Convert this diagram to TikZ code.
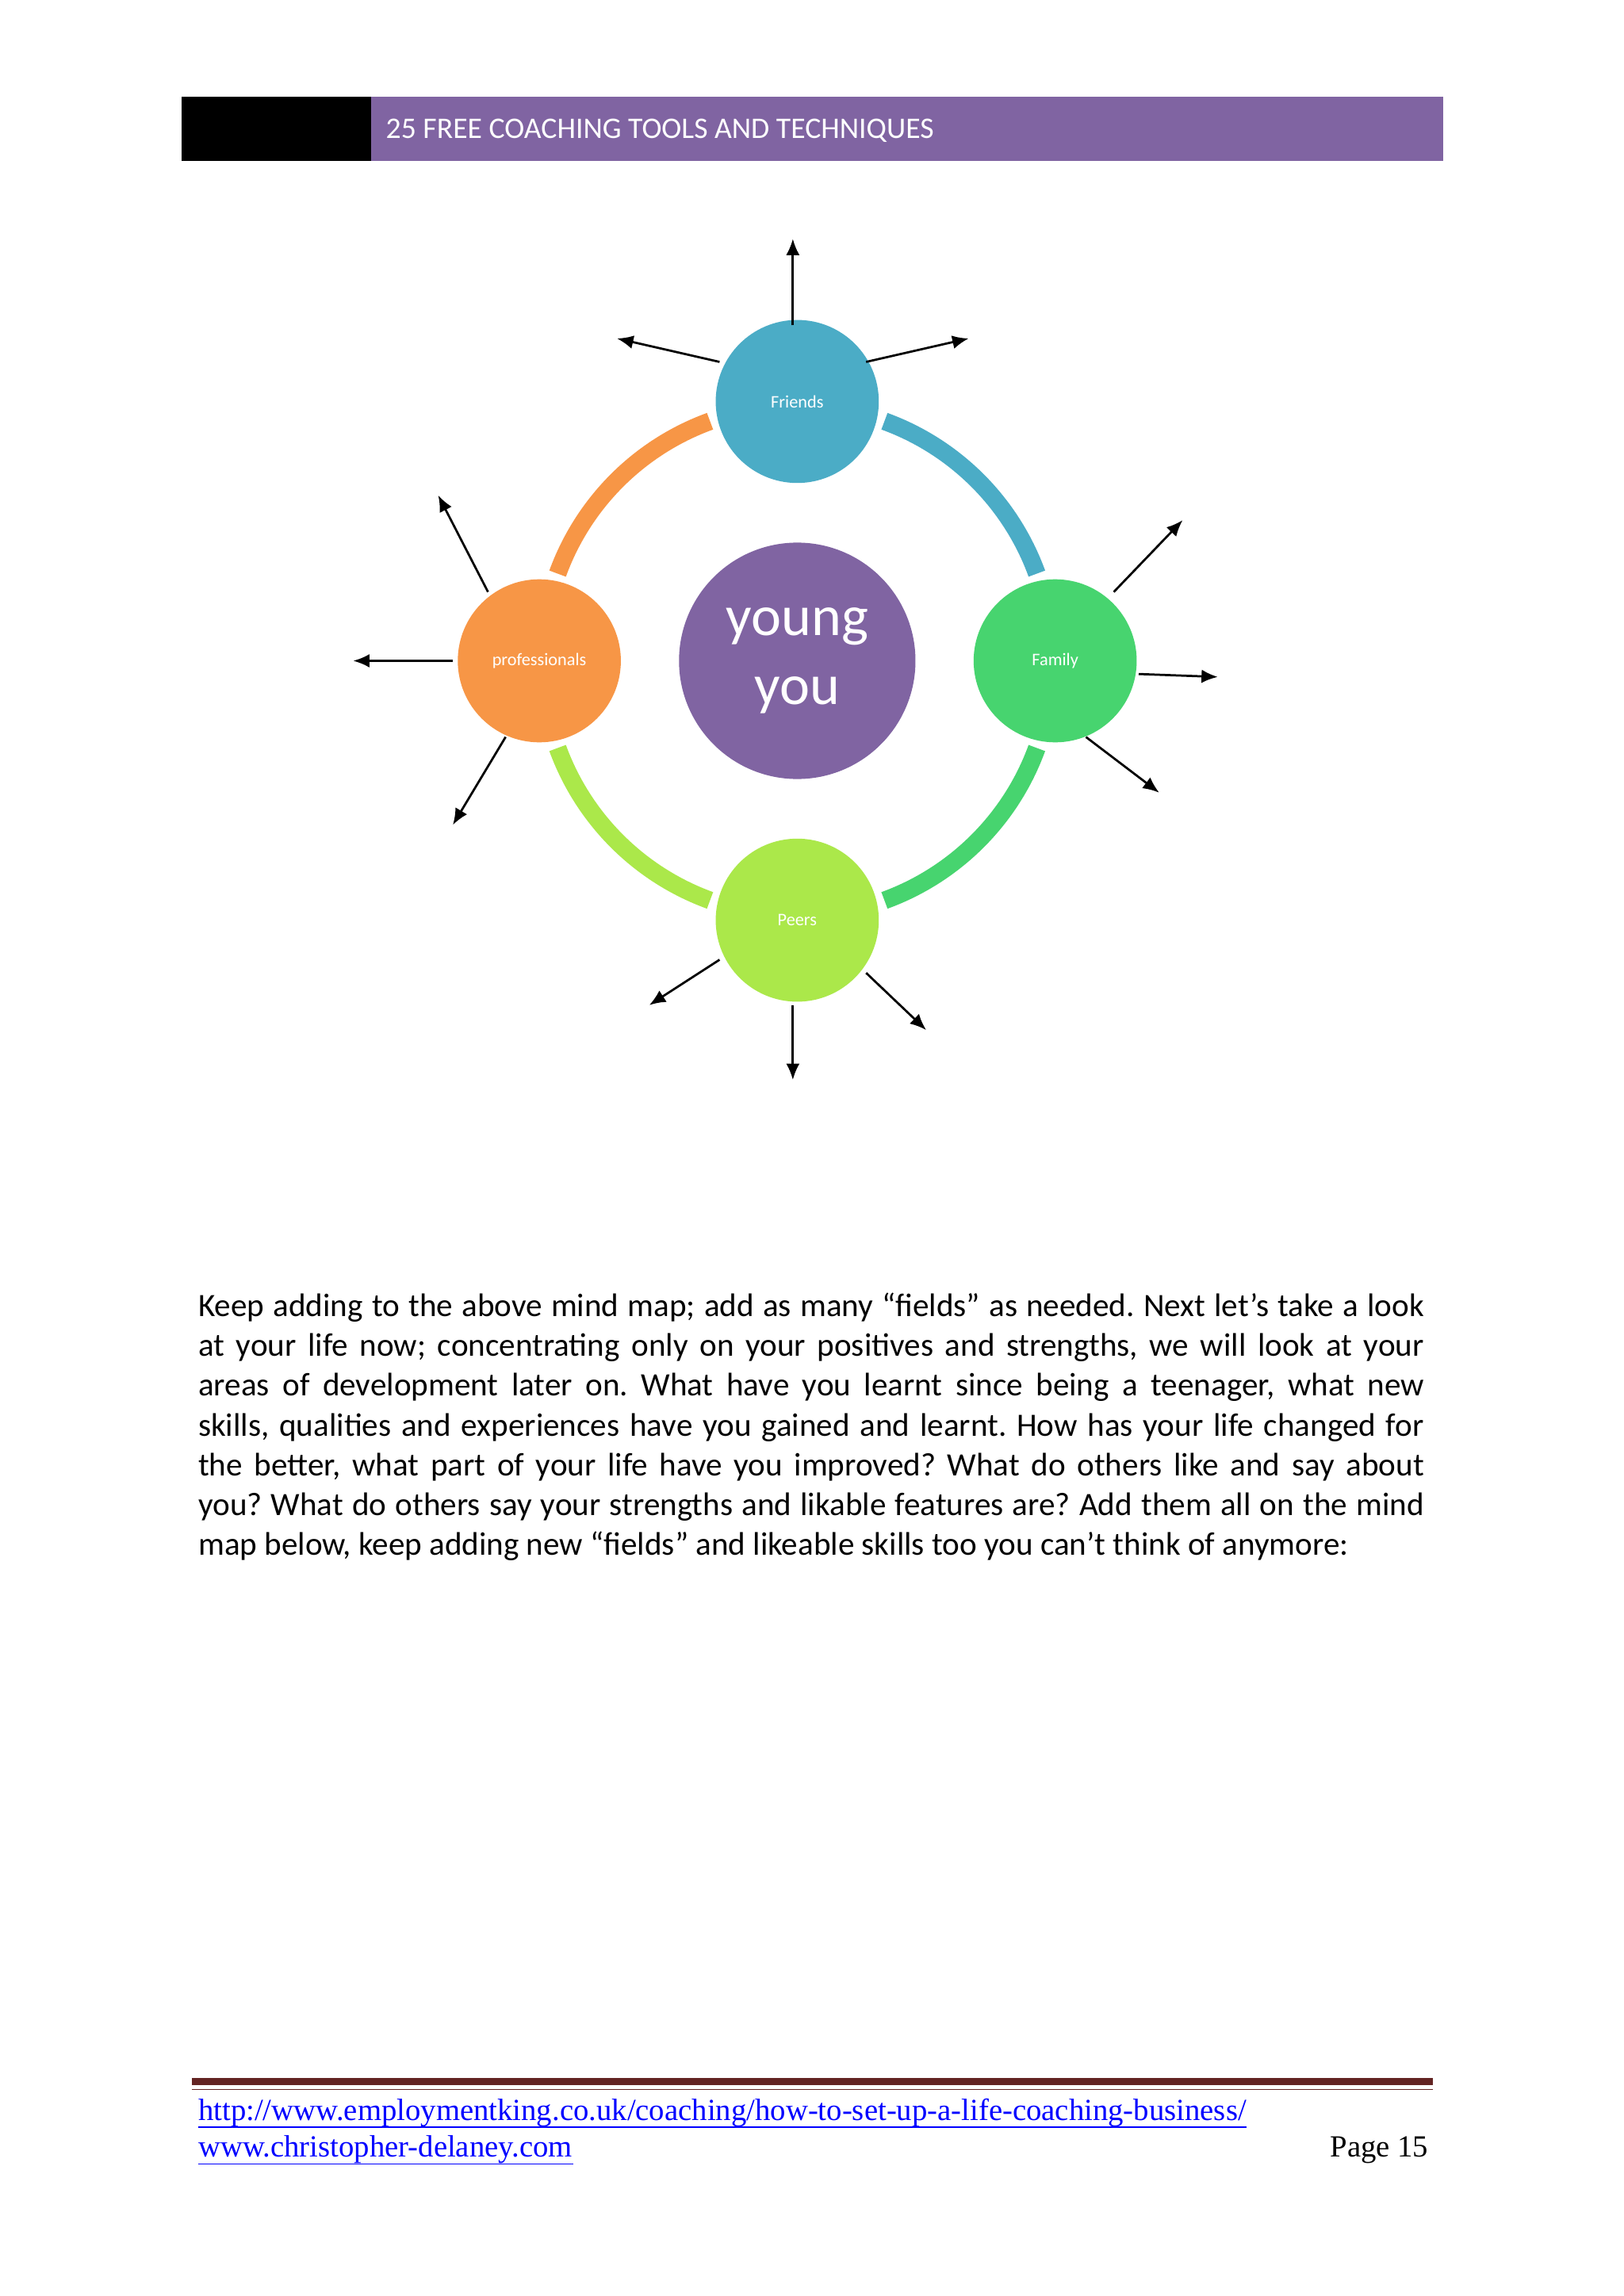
\documentclass[tikz,border=0pt]{standalone}
\usepackage{fontspec}
\setmainfont{Carlito}
\newfontfamily\footfont{Liberation Serif}
\usetikzlibrary{arrows.meta}
\frenchspacing
\definecolor{hdrpurple}{HTML}{8064A2}
\definecolor{cblue}{HTML}{4BACC6}
\definecolor{cgreen}{HTML}{47D46F}
\definecolor{clime}{HTML}{ABE84A}
\definecolor{corange}{HTML}{F79646}
\definecolor{rulered}{HTML}{632423}
\definecolor{linkblue}{HTML}{0000FF}
\tikzset{
  sat/.style={circle,minimum size=60pt,inner sep=0,text=white,font=\fontsize{6.5}{7}\selectfont},
  outarrow/.style={-{Latex[length=6pt,width=5pt]},line width=0.8pt,black},
  ringarc/.style={line width=6.5pt}
}
\begin{document}
\begin{tikzpicture}[x=0.018953cm,y=-0.018953cm]
\useasboundingbox[fill=white] (0,0) rectangle (1108,1567);
% header
\fill[black] (124,66) rectangle (253,110);
\fill[hdrpurple] (253,66) rectangle (985,110);
\node[anchor=west,text=white,font=\fontsize{11}{13}\selectfont,inner sep=0] (hdr) at (263,89) {25 FREE COACHING TOOLS AND TECHNIQUES};
% ring arcs
\def\R{174}
\draw[ringarc,cblue] (544,451) ++(-70:\R) arc[start angle=-70,end angle=-20,radius=\R];
\draw[ringarc,cgreen] (544,451) ++(20:\R) arc[start angle=20,end angle=70,radius=\R];
\draw[ringarc,clime] (544,451) ++(110:\R) arc[start angle=110,end angle=160,radius=\R];
\draw[ringarc,corange] (544,451) ++(200:\R) arc[start angle=200,end angle=250,radius=\R];
% nodes
\node[circle,fill=hdrpurple,minimum size=87pt,inner sep=0,text=white,align=center,font=\fontsize{21}{25.5}\selectfont] (you) at (544,451) {young\\you};
\node[sat,fill=cblue] (fr) at (544,274) {Friends};
\node[sat,fill=cgreen] (fa) at (720,451) {Family};
\node[sat,fill=clime] (pe) at (544,628) {Peers};
\node[sat,fill=corange] (pr) at (368,451) {professionals};
% arrow ends
\coordinate (f1) at (541,163); \coordinate (f2) at (421,231); \coordinate (f3) at (661,231);
\coordinate (a1) at (807,355); \coordinate (a2) at (831,462); \coordinate (a3) at (791,541);
\coordinate (p1) at (443,686); \coordinate (p2) at (541,737); \coordinate (p3) at (632,703);
\coordinate (r1) at (299,338); \coordinate (r2) at (241,451); \coordinate (r3) at (309,563);
\draw[outarrow] (541,222) -- (f1);
\draw[outarrow] (491,247) -- (f2);
\draw[outarrow] (591,247) -- (f3);
\draw[outarrow] (760,404) -- (a1);
\draw[outarrow] (777,460) -- (a2);
\draw[outarrow] (741,503) -- (a3);
\draw[outarrow] (491,655) -- (p1);
\draw[outarrow] (541,686) -- (p2);
\draw[outarrow] (591,664) -- (p3);
\draw[outarrow] (333,404) -- (r1);
\draw[outarrow] (309,451) -- (r2);
\draw[outarrow] (345,503) -- (r3);
% body text
\node[anchor=north west,inner sep=0,text width=451pt,align=justify,font=\fontsize{12}{14.65}\selectfont] (body) at (135,882) {Keep adding to the above mind map; add as many “fields” as needed. Next let’s take a look\linebreak at your life now; concentrating only on your positives and strengths, we will look at your\linebreak areas of development later on. What have you learnt since being a teenager, what new\linebreak skills, qualities and experiences have you gained and learnt. How has your life changed for\linebreak the better, what part of your life have you improved? What do others like and say about\linebreak you? What do others say your strengths and likable features are? Add them all on the mind\linebreak map below, keep adding new “fields” and likeable skills too you can’t think of anymore:};
% footer
\fill[rulered] (131,1418) rectangle (978,1423);
\draw[rulered,line width=0.5pt] (131,1426) -- (978,1426);
\node[anchor=base west,inner sep=0,text=linkblue,font=\footfont\fontsize{11.3}{13}\selectfont] (l1) at (135,1447) {http://www.employmentking.co.uk/coaching/how-to-set-up-a-life-coaching-business/};
\node[anchor=base west,inner sep=0,text=linkblue,font=\footfont\fontsize{11.3}{13}\selectfont] (l2) at (135,1472) {www.christopher-delaney.com};
\draw[linkblue,line width=0.5pt] (l1.south west) -- (l1.south east);
\draw[linkblue,line width=0.5pt] (l2.south west) -- (l2.south east);
\node[anchor=base east,inner sep=0,font=\footfont\fontsize{11.3}{13}\selectfont] (pg) at (975,1472) {Page 15};
\end{tikzpicture}
\end{document}
